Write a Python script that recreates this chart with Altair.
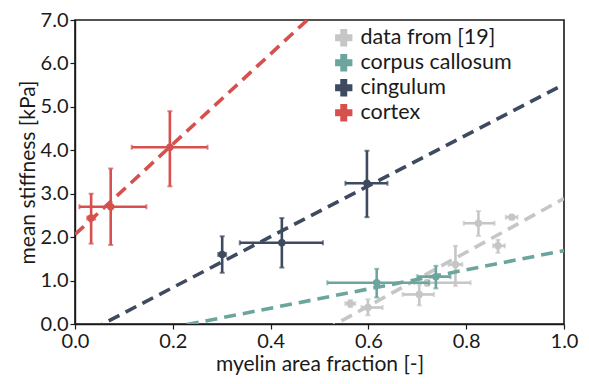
import altair as alt
import pandas as pd

series = ["data from [19]", "corpus callosum", "cingulum", "cortex"]
colors = ["#c6c6c6", "#6ba59d", "#3e4a5f", "#d6514d"]

# data from [19]
g_x = [0.563, 0.599, 0.704, 0.720, 0.778, 0.825, 0.865, 0.893]
g_y = [0.47, 0.38, 0.68, 0.95, 1.37, 2.32, 1.80, 2.46]
g_xlo = [0.553, 0.586, 0.670, 0.694, 0.764, 0.795, 0.855, 0.881]
g_xhi = [0.573, 0.629, 0.734, 0.809, 0.792, 0.858, 0.879, 0.905]
g_ylo = [0.39, 0.20, 0.43, 0.88, 0.88, 2.03, 1.64, 2.41]
g_yhi = [0.55, 0.57, 0.91, 1.02, 1.80, 2.60, 1.94, 2.51]

# corpus callosum
cc_x = [0.617, 0.738]
cc_y = [0.95, 1.09]
cc_xlo = [0.516, 0.700]
cc_xhi = [0.724, 0.768]
cc_ylo = [0.61, 0.82]
cc_yhi = [1.27, 1.34]

# cingulum
cg_x = [0.301, 0.423, 0.597]
cg_y = [1.60, 1.87, 3.24]
cg_xlo = [0.293, 0.337, 0.553]
cg_xhi = [0.309, 0.507, 0.639]
cg_ylo = [1.18, 1.30, 2.46]
cg_yhi = [2.02, 2.44, 3.99]

# cortex
cx_x = [0.033, 0.073, 0.194]
cx_y = [2.44, 2.70, 4.07]
cx_xlo = [0.025, 0.009, 0.116]
cx_xhi = [0.041, 0.146, 0.271]
cx_ylo = [1.85, 1.82, 3.17]
cx_yhi = [3.00, 3.58, 4.90]

# linear fits (intercept, slope)
fit_a = [-3.30, -0.52, -0.33, 2.06]
fit_b = [6.19, 2.21, 5.85, 10.4]

groups = [
    (g_x, g_y, g_xlo, g_xhi, g_ylo, g_yhi),
    (cc_x, cc_y, cc_xlo, cc_xhi, cc_ylo, cc_yhi),
    (cg_x, cg_y, cg_xlo, cg_xhi, cg_ylo, cg_yhi),
    (cx_x, cx_y, cx_xlo, cx_xhi, cx_ylo, cx_yhi),
]

FONT = "Lato"
FS = 20

color = alt.Color(
    "series:N",
    scale=alt.Scale(domain=series, range=colors),
    legend=alt.Legend(
        title=None,
        orient="none",
        legendX=258,
        legendY=7,
        symbolType="cross",
        symbolSize=300,
        symbolStrokeWidth=0,
        labelFontSize=21.5,
        labelFont=FONT,
        labelColor="#1a1a1a",
        rowPadding=2,
        labelOffset=6,
        symbolOpacity=1,
    ),
)

xs = alt.Scale(domain=[0, 1], nice=False)
ys = alt.Scale(domain=[0, 7], nice=False)
xaxis = alt.Axis(
    title="myelin area fraction [-]",
    values=[0, 0.2, 0.4, 0.6, 0.8, 1.0],
    format=".1f",
    grid=False,
    labelFlush=False,
)
yaxis = alt.Axis(
    title="mean stiffness [kPa]",
    values=[0, 1, 2, 3, 4, 5, 6, 7],
    format=".1f",
    grid=False,
    labelFlush=False,
)


def X(f):
    return alt.X(f + ":Q", scale=xs, axis=xaxis)


def Y(f):
    return alt.Y(f + ":Q", scale=ys, axis=yaxis)


layers = []
for i, (s, grp) in enumerate(zip(series, groups)):
    x, y, xlo, xhi, ylo, yhi = grp
    df = pd.DataFrame({
        "series": s, "x": x, "y": y,
        "xlo": xlo, "xhi": xhi, "ylo": ylo, "yhi": yhi,
    })
    base = alt.Chart(df)
    sw = 2.6
    vrule = base.mark_rule(strokeWidth=sw).encode(
        x=X("x"), y=Y("ylo"), y2="yhi", color=color)
    hrule = base.mark_rule(strokeWidth=sw).encode(
        x=X("xlo"), x2="xhi", y=Y("y"), color=color)
    cap_lo = base.mark_tick(orient="horizontal", size=5, thickness=2).encode(
        x=X("x"), y=Y("ylo"), color=color)
    cap_hi = base.mark_tick(orient="horizontal", size=5, thickness=2).encode(
        x=X("x"), y=Y("yhi"), color=color)
    capl = base.mark_tick(orient="vertical", size=5, thickness=2).encode(
        x=X("xlo"), y=Y("y"), color=color)
    capr = base.mark_tick(orient="vertical", size=5, thickness=2).encode(
        x=X("xhi"), y=Y("y"), color=color)
    pts = base.mark_circle(size=55, opacity=1).encode(
        x=X("x"), y=Y("y"), color=color)
    ldf = pd.DataFrame({
        "series": s, "x": [0.0, 1.0],
        "y": [fit_a[i], fit_a[i] + fit_b[i]],
    })
    line = alt.Chart(ldf).mark_line(
        strokeWidth=3.6, strokeDash=[12, 7], clip=True
    ).encode(x=X("x"), y=Y("y"), color=color)
    layers += [vrule, hrule, cap_lo, cap_hi, capl, capr, pts, line]

chart = alt.layer(*layers).properties(
    width=489,
    height=304,
    padding={"left": 67, "top": 12, "right": 16, "bottom": 52},
    autosize=alt.AutoSizeParams(type="none"),
).configure_view(
    stroke="#1a1a1a", strokeWidth=1.6
).configure_axis(
    labelFont=FONT, titleFont=FONT,
    labelFontSize=FS, titleFontSize=21,
    labelColor="#1a1a1a", titleColor="#1a1a1a",
    titleFontWeight="normal",
    domainColor="#1a1a1a", tickColor="#1a1a1a",
    tickSize=5, tickWidth=1.2, domainWidth=1.4,
    labelPadding=2,
).configure_axisX(
    titlePadding=2,
).configure_axisY(
    titlePadding=2,
)

chart.save("out.html", embed_options={"renderer": "svg", "actions": False})
